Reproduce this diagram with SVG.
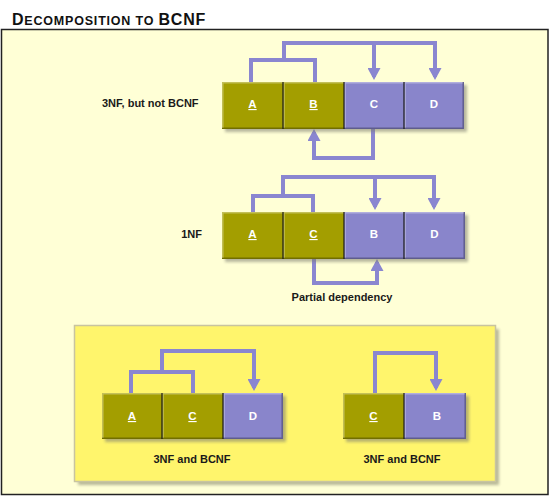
<svg xmlns="http://www.w3.org/2000/svg" width="550" height="500" viewBox="0 0 550 500">
<defs>
<style>
.title{font-family:"Liberation Sans",Arial,sans-serif;font-weight:bold;fill:#111;letter-spacing:0.8px}
.lbl{font-family:"Liberation Sans",Arial,sans-serif;font-weight:bold;font-size:11px;fill:#1a1a1a}
.cell{font-family:"Liberation Sans",Arial,sans-serif;font-weight:bold;font-size:11.5px;fill:#ffffff;text-anchor:middle}
.key{text-decoration:underline}
.ol{fill:#A39E00}
.pu{fill:#8985CB}
.hi{stroke:#ffffff;stroke-opacity:0.35;stroke-width:1.5;fill:none}
.lo{stroke:#000000;stroke-opacity:0.3;stroke-width:1.5;fill:none}
.div{stroke:#1a1a1a;stroke-width:1.2}
.shadow{fill:#7a7a70;opacity:0.55;filter:url(#blur)}
.conn{fill:none;stroke:#8A86D0;stroke-width:4;stroke-linejoin:miter}
.arr{marker-end:url(#ah)}
</style>
<filter id="blur" x="-10%" y="-10%" width="120%" height="130%"><feGaussianBlur stdDeviation="1.5"/></filter>
<marker id="ah" viewBox="0 0 12 13" refX="9" refY="6.5" markerWidth="12" markerHeight="13" markerUnits="userSpaceOnUse" orient="auto">
<path d="M0,0 L12,6.5 L0,13 Z" fill="#8A86D0"/>
</marker>
</defs>

<text class="title" x="12" y="25"><tspan font-size="16">D</tspan><tspan font-size="12.5">ECOMPOSITION TO </tspan><tspan font-size="16">BCNF</tspan></text>

<rect x="1.5" y="29.5" width="546.5" height="465" fill="#FFFFD6" stroke="#222" stroke-width="1.5"/>

<g id="decomposed-box">
<rect x="78" y="329" width="421" height="156" fill="#8a8a70" opacity="0.6" filter="url(#blur)"/>
<rect x="74.5" y="325.5" width="421" height="156" fill="#FFF56C" stroke="#C8C4A0" stroke-width="1.5"/>
</g>

<g id="connectors">
<path class="conn" d="M251,82 V60 H315 V82"/>
<path class="conn arr" d="M284,60 V43 H435 V77"/>
<path class="conn arr" d="M374,43 V77"/>
<path class="conn arr" d="M373,129 V158 H314 V132"/>

<path class="conn" d="M253,212 V196 H313 V212"/>
<path class="conn arr" d="M283,196 V177 H434 V207"/>
<path class="conn arr" d="M375,177 V207"/>
<path class="conn arr" d="M314,259 V283 H377 V262"/>

<path class="conn" d="M131,393 V372 H193 V393"/>
<path class="conn arr" d="M162,372 V351 H254 V388"/>

<path class="conn arr" d="M375,393 V353 H436 V388"/>
</g>

<g id="t-3nf">
<rect class="shadow" x="225" y="85" width="242" height="47"/>
<g id="t1-A"><rect class="ol" x="222" y="82" width="61" height="47"/><text class="cell key" x="252.5" y="108">A</text></g>
<g id="t1-B"><rect class="ol" x="283" y="82" width="61" height="47"/><text class="cell key" x="313.5" y="108">B</text></g>
<g id="t1-C"><rect class="pu" x="344" y="82" width="60" height="47"/><text class="cell" x="374" y="108">C</text></g>
<g id="t1-D"><rect class="pu" x="404" y="82" width="60" height="47"/><text class="cell" x="434" y="108">D</text></g>
<path class="hi" d="M222.8,128 V82.8 H463.2 M284,83 V128 M345,83 V128 M405,83 V128"/>
<path class="lo" d="M222,128.2 H463.2 V82"/>
<path class="div" d="M283,82 V129 M344,82 V129 M404,82 V129"/>
<text class="lbl" x="102" y="107">3NF, but not BCNF</text>
</g>

<g id="t-1nf">
<rect class="shadow" x="225" y="215" width="243" height="47"/>
<g id="t2-A"><rect class="ol" x="222" y="212" width="61" height="47"/><text class="cell key" x="252.5" y="238">A</text></g>
<g id="t2-C"><rect class="ol" x="283" y="212" width="61" height="47"/><text class="cell key" x="313.5" y="238">C</text></g>
<g id="t2-B"><rect class="pu" x="344" y="212" width="60" height="47"/><text class="cell" x="374" y="238">B</text></g>
<g id="t2-D"><rect class="pu" x="404" y="212" width="61" height="47"/><text class="cell" x="434.5" y="238">D</text></g>
<path class="hi" d="M222.8,258 V212.8 H464.2 M284,213 V258 M345,213 V258 M405,213 V258"/>
<path class="lo" d="M222,258.2 H464.2 V212"/>
<path class="div" d="M283,212 V259 M344,212 V259 M404,212 V259"/>
<text class="lbl" x="202" y="238" text-anchor="end">1NF</text>
<text class="lbl" x="342" y="301" text-anchor="middle">Partial dependency</text>
</g>

<g id="t-acd">
<rect class="shadow" x="105" y="396" width="181" height="46"/>
<g id="t3-A"><rect class="ol" x="102" y="393" width="60" height="46"/><text class="cell key" x="132" y="420">A</text></g>
<g id="t3-C"><rect class="ol" x="162" y="393" width="61" height="46"/><text class="cell key" x="192.5" y="420">C</text></g>
<g id="t3-D"><rect class="pu" x="223" y="393" width="60" height="46"/><text class="cell" x="253" y="420">D</text></g>
<path class="hi" d="M102.8,438 V393.8 H282.2 M163,394 V438 M224,394 V438"/>
<path class="lo" d="M102,438.2 H282.2 V393"/>
<path class="div" d="M162,393 V439 M223,393 V439"/>
<text class="lbl" x="192" y="463" text-anchor="middle">3NF and BCNF</text>
</g>

<g id="t-cb">
<rect class="shadow" x="346" y="396" width="123" height="46"/>
<g id="t4-C"><rect class="ol" x="343" y="393" width="61" height="46"/><text class="cell key" x="373.5" y="420">C</text></g>
<g id="t4-B"><rect class="pu" x="404" y="393" width="62" height="46"/><text class="cell" x="437" y="420">B</text></g>
<path class="hi" d="M343.8,438 V393.8 H465.2 M405,394 V438"/>
<path class="lo" d="M343,438.2 H465.2 V393"/>
<path class="div" d="M404,393 V439"/>
<text class="lbl" x="402" y="463" text-anchor="middle">3NF and BCNF</text>
</g>
</svg>
